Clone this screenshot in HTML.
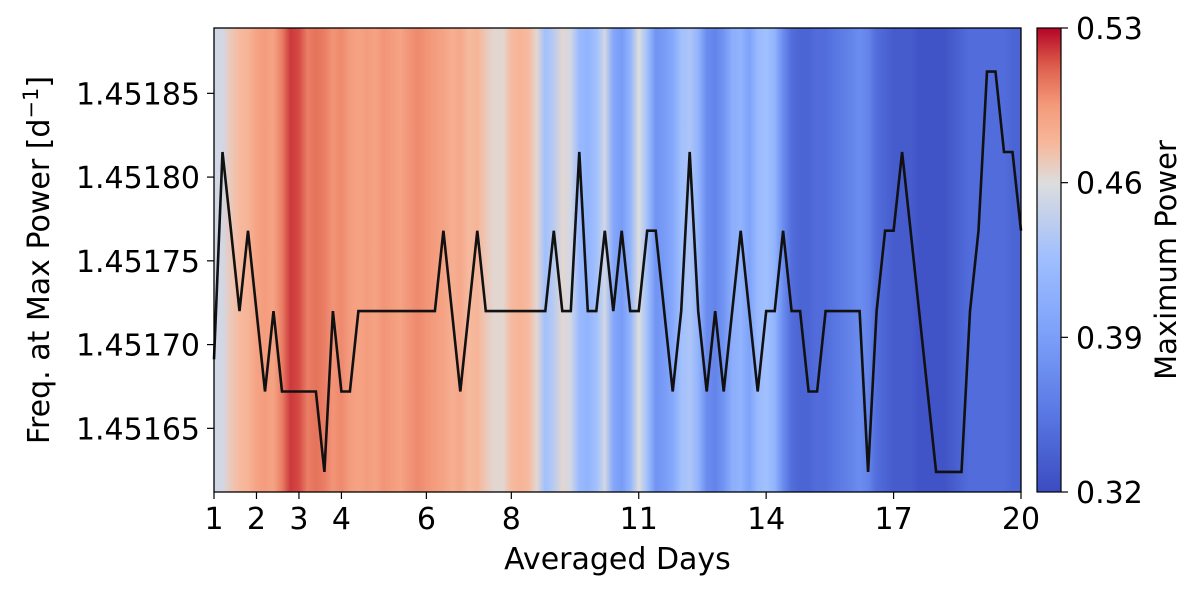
<!DOCTYPE html>
<html><head><meta charset="utf-8"><style>
html,body{margin:0;padding:0;background:#fff;}
svg{display:block;font-family:"DejaVu Sans","Liberation Sans",sans-serif;}
</style></head><body>
<svg id="chart" width="1200" height="593" xmlns="http://www.w3.org/2000/svg">
<defs><linearGradient id="heatGrad" x1="0" x2="1" y1="0" y2="0"></linearGradient>
<linearGradient id="cbGrad" x1="0" x2="0" y1="1" y2="0"></linearGradient></defs>
<g id="plot"></g>
</svg>
<script>
const days = [];
const freqLevels = [1.451624,1.451672,1.45172,1.451768,1.451815,1.451863];
const levelIdx = [1.4,4,3,2,3,2,1,2,1,1,1,1,1,0,2,1,1,2,2,2,2,2,2,2,2,2,2,3,2,1,2,3,2,2,2,2,2,2,2,2,3,2,2,4,2,2,3,2,3,2,2,3,3,2,1,2,4,2,1,2,1,2,3,2,1,2,2,3,2,2,1,1,2,2,2,2,2,0,2,3,3,4,3,2,1,0,0,0,0,2,3,5,5,4,4,3];
const power = [0.4533,0.4533,0.47,0.4767,0.48,0.49,0.4933,0.49,0.5033,0.52,0.5167,0.5033,0.5067,0.5033,0.4967,0.5,0.4933,0.49,0.4933,0.49,0.4967,0.4933,0.49,0.4967,0.5,0.4967,0.4933,0.49,0.4833,0.4867,0.4767,0.48,0.47,0.4633,0.4633,0.4767,0.48,0.4767,0.4633,0.4267,0.44,0.4633,0.4533,0.42,0.4133,0.4267,0.4533,0.40,0.3867,0.4133,0.46,0.4267,0.38,0.3867,0.40,0.4267,0.4333,0.4133,0.3733,0.3667,0.38,0.4067,0.4133,0.3933,0.42,0.4267,0.4133,0.3733,0.3467,0.34,0.34,0.3467,0.3467,0.3533,0.36,0.3667,0.3733,0.3667,0.3467,0.34,0.3333,0.3333,0.3333,0.3267,0.3267,0.3267,0.3267,0.3333,0.34,0.3467,0.3467,0.3467,0.3467,0.3467,0.34,0.34];
const xTicks = [1,2,3,4,6,8,11,14,17,20];
const yTicks = [1.45165,1.4517,1.45175,1.4518,1.45185];
const yTickLabels = ["1.45165","1.45170","1.45175","1.45180","1.45185"];
const cbTicks = [0.32,0.39,0.46,0.53];
for (let i = 0; i < levelIdx.length; i++) days.push(1 + i * 0.2);

const L=214,R=1021,T=28,B=492,FS=30;
const xMin=1,xMax=20,yMin=1.451612,yMax=1.451889,pMin=0.32,pMid=0.46,pMax=0.53;
const sx=v=>L+(v-xMin)/(xMax-xMin)*(R-L);
const sy=v=>B-(v-yMin)/(yMax-yMin)*(B-T);
const norm=v=>v<pMid?0.5*(v-pMin)/(pMid-pMin):0.5+0.5*(v-pMid)/(pMax-pMid);
const NS='http://www.w3.org/2000/svg';
const cw=[[0,[59,76,192]],[0.125,[89,119,227]],[0.25,[123,159,249]],[0.375,[158,190,255]],[0.5,[221,221,221]],[0.625,[247,184,156]],[0.75,[244,154,123]],[0.875,[222,96,77]],[1,[180,4,38]]];
function cmap(t){t=Math.max(0,Math.min(1,t));for(let k=1;k<cw.length;k++){if(t<=cw[k][0]){const a=cw[k-1],b=cw[k],f=(t-a[0])/(b[0]-a[0]);return 'rgb('+a[1].map((c,j)=>Math.round(c+(b[1][j]-c)*f)).join(',')+')';}}return 'rgb(180,4,38)';}
function mk(tag,attrs,parent){const e=document.createElementNS(NS,tag);for(const k in attrs)e.setAttribute(k,attrs[k]);parent.appendChild(e);return e;}
const g=document.getElementById('plot');
const hg=document.getElementById('heatGrad');
power.forEach((p,i)=>{mk('stop',{offset:((days[i]-xMin)/(xMax-xMin)).toFixed(4),'stop-color':cmap(norm(p))},hg);});
const cg=document.getElementById('cbGrad');
for(let k=0;k<=42;k++){const v=pMin+(pMax-pMin)*k/42;mk('stop',{offset:k/42,'stop-color':cmap(norm(v))},cg);}
const heat=mk('rect',{x:L,y:T,width:R-L,height:B-T,fill:'url(#heatGrad)'},g);


const pts=days.map((d,i)=>{const li=levelIdx[i];const lo=Math.floor(li),hi=Math.min(5,lo+1),f=li-lo;const v=freqLevels[lo]+(freqLevels[hi]-freqLevels[lo])*f;return sx(d).toFixed(1)+','+sy(v).toFixed(1);}).join(' ');
const line=mk('polyline',{points:pts,fill:'none',stroke:'#111','stroke-width':2.6,'stroke-linejoin':'miter'},g);


const frame=mk('rect',{x:L,y:T,width:R-L,height:B-T,fill:'none',stroke:'#000','stroke-width':1.3},g);


xTicks.forEach(t=>{const x=sx(t);mk('line',{x1:x,x2:x,y1:B,y2:B+7,stroke:'#000','stroke-width':1.2},g);
const tx=mk('text',{x:x,y:B+37,'font-size':FS,'text-anchor':'middle',fill:'#000'},g);tx.textContent=t;

});
yTicks.forEach((t,i)=>{const y=sy(t);mk('line',{x1:L-7,x2:L,y1:y,y2:y,stroke:'#000','stroke-width':1.2},g);
const tx=mk('text',{x:L-14,y:y+11,'font-size':FS,'text-anchor':'end',fill:'#000'},g);tx.textContent=yTickLabels[i];

});
const xl=mk('text',{x:(L+R)/2,y:569,'font-size':FS,'text-anchor':'middle',fill:'#000'},g);xl.textContent='Averaged Days';


const yl=mk('text',{x:0,y:0,'font-size':FS,'text-anchor':'middle',fill:'#000',transform:'translate(49,'+((T+B)/2)+') rotate(-90)'},g);
yl.innerHTML='Freq. at Max Power [d<tspan dy="-11" font-size="21">−1</tspan><tspan dy="11">]</tspan>';


const CL=1037,CR=1061;
const cb=mk('rect',{x:CL,y:T,width:CR-CL,height:B-T,fill:'url(#cbGrad)',stroke:'#000','stroke-width':1.2},g);


cbTicks.forEach(t=>{const y=B-(t-pMin)/(pMax-pMin)*(B-T);mk('line',{x1:CR,x2:CR+7,y1:y,y2:y,stroke:'#000','stroke-width':1.2},g);
const tx=mk('text',{x:CR+15,y:y+11,'font-size':FS,fill:'#000'},g);tx.textContent=t.toFixed(2);

});
const cl=mk('text',{x:0,y:0,'font-size':FS-1,'text-anchor':'middle',fill:'#000',transform:'translate(1176,'+((T+B)/2)+') rotate(-90)'},g);cl.textContent='Maximum Power';


</script>
</body></html>
